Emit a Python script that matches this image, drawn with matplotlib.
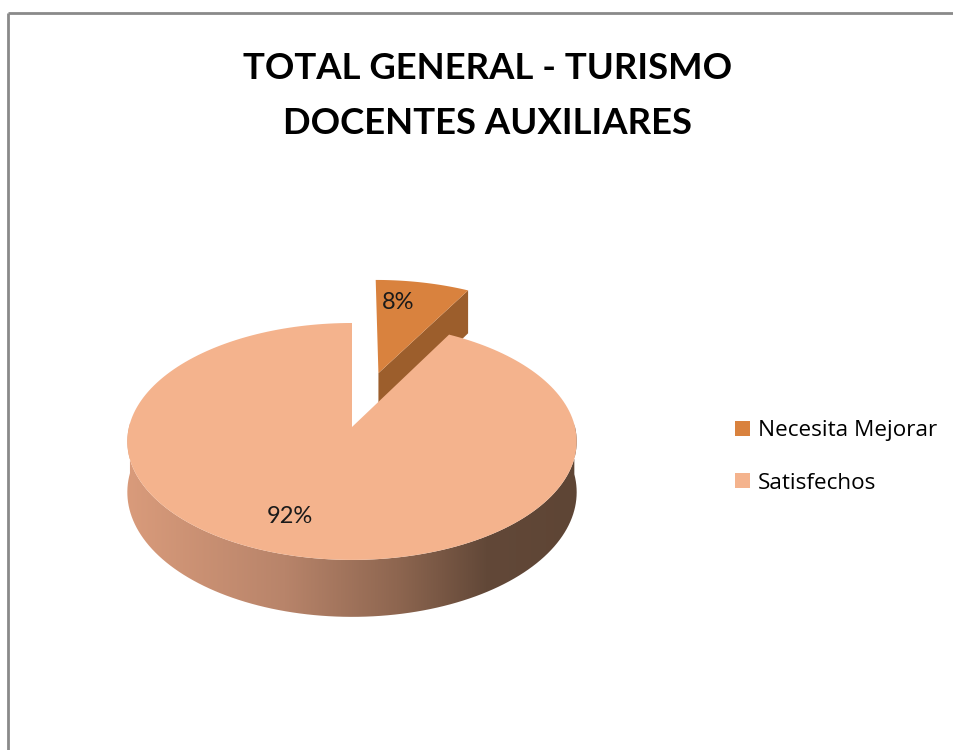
import numpy as np
import matplotlib.pyplot as plt
from matplotlib.patches import Patch, Polygon
from matplotlib.colors import LinearSegmentedColormap

plt.rcParams['font.family'] = ['Lato', 'DejaVu Sans']

# data
title = 'TOTAL GENERAL - TURISMO\nDOCENTES AUXILIARES'
labels = ['Necesita Mejorar', 'Satisfechos']
values = [8, 92]
explode = [0.505, 0.0]
top_colors = ['#D9823E', '#F4B38D']
cut_colors = ['#9C5E2C', '#B07A5C']

# 3d pie look (pixel space, y downward)
cx, cy = 352, 427
a, k, p, h = 223, 116.7, 0.122, 50


def project(u, v, z=0.0):
    s = 1.0 / (1.0 + p * v)
    return cx + a * u * s, cy - k * v * s + h * z * s


fig = plt.figure(figsize=(9.54, 7.5), dpi=100)
ax = fig.add_axes([0, 0, 1, 1])
ax.set_xlim(0, 954)
ax.set_ylim(750, 0)
ax.axis('off')

# chart border (only top and left visible)
ax.plot([8, 960], [13, 13], color='#8a8a8a', linewidth=2, solid_capstyle='butt')
ax.plot([8, 8], [13, 760], color='#8a8a8a', linewidth=2, solid_capstyle='butt')

fracs = np.array(values, dtype=float) / sum(values)
starts = 90 - 360 * np.concatenate([[0], np.cumsum(fracs)[:-1]])
ends = starts - 360 * fracs


def slice_points(i, n=200):
    mid = np.radians((starts[i] + ends[i]) / 2)
    du, dv = explode[i] * np.cos(mid), explode[i] * np.sin(mid)
    t = np.radians(np.linspace(starts[i], ends[i], n))
    return du, dv, t


# exploded wedge first (it sits behind)
for i in range(len(values)):
    if explode[i] == 0:
        continue
    du, dv, t = slice_points(i)
    # cut face along the end edge
    e = np.radians(ends[i])
    pts = [project(du, dv, 0), project(du + np.cos(e), dv + np.sin(e), 0),
           project(du + np.cos(e), dv + np.sin(e), 1), project(du, dv, 1)]
    ax.add_patch(Polygon(pts, closed=True, facecolor=cut_colors[i], edgecolor='none'))
    top = [project(du, dv)] + [project(du + np.cos(tt), dv + np.sin(tt)) for tt in t]
    ax.add_patch(Polygon(top, closed=True, facecolor=top_colors[i], edgecolor='none'))

# main body: outer wall with horizontal shading, then top face
side_cmap = LinearSegmentedColormap.from_list(
    'side', [(0.0, '#D99B7B'), (0.35, '#B8846A'), (0.6, '#8E6650'), (0.8, '#624838'), (1.0, '#5E4535')])
for i in range(len(values)):
    if explode[i] != 0:
        continue
    du, dv, t = slice_points(i)
    tw = t[np.sin(t) <= 0.05]
    upper = [project(du + np.cos(tt), dv + np.sin(tt), 0) for tt in tw]
    lower = [project(du + np.cos(tt), dv + np.sin(tt), 1) for tt in tw[::-1]]
    wall = Polygon(upper + lower, closed=True, facecolor='none', edgecolor='none')
    ax.add_patch(wall)
    xs = [q[0] for q in upper]
    ys = [q[1] for q in upper + lower]
    grad = np.linspace(0, 1, 256).reshape(1, -1)
    im = ax.imshow(grad, cmap=side_cmap, aspect='auto',
                   extent=[min(xs), max(xs), max(ys), min(ys)], zorder=1)
    im.set_clip_path(wall)
    top = [project(du, dv)] + [project(du + np.cos(tt), dv + np.sin(tt)) for tt in t]
    ax.add_patch(Polygon(top, closed=True, facecolor=top_colors[i], edgecolor='none', zorder=2))

ax.set_xlim(0, 954)
ax.set_ylim(750, 0)

# percentage labels
label_pos = [(0.11, 0.74), (-0.254, -0.698)]
for i in range(len(values)):
    mid = np.radians((starts[i] + ends[i]) / 2)
    du, dv = explode[i] * np.cos(mid), explode[i] * np.sin(mid)
    lx, ly = project(du + label_pos[i][0], dv + label_pos[i][1])
    ax.text(lx, ly, f'{values[i]}%', fontsize=17, color='#1a1a1a',
            ha='center', va='center', zorder=3)

ax.text(488, 96, title, fontsize=26.3, fontweight='bold', ha='center', va='center',
        linespacing=1.78, color='black')

handles = [Patch(facecolor=c, edgecolor='none') for c in top_colors]
ax.legend(handles, labels, loc='center left', bbox_to_anchor=(726 / 954, 1 - 457 / 750),
          frameon=False, prop={'family': ['Open Sans', 'DejaVu Sans'], 'size': 16.2},
          handlelength=0.68, handleheight=0.68,
          handletextpad=0.35, labelspacing=1.38, borderaxespad=0)

fig.savefig('out.png', dpi=100)
